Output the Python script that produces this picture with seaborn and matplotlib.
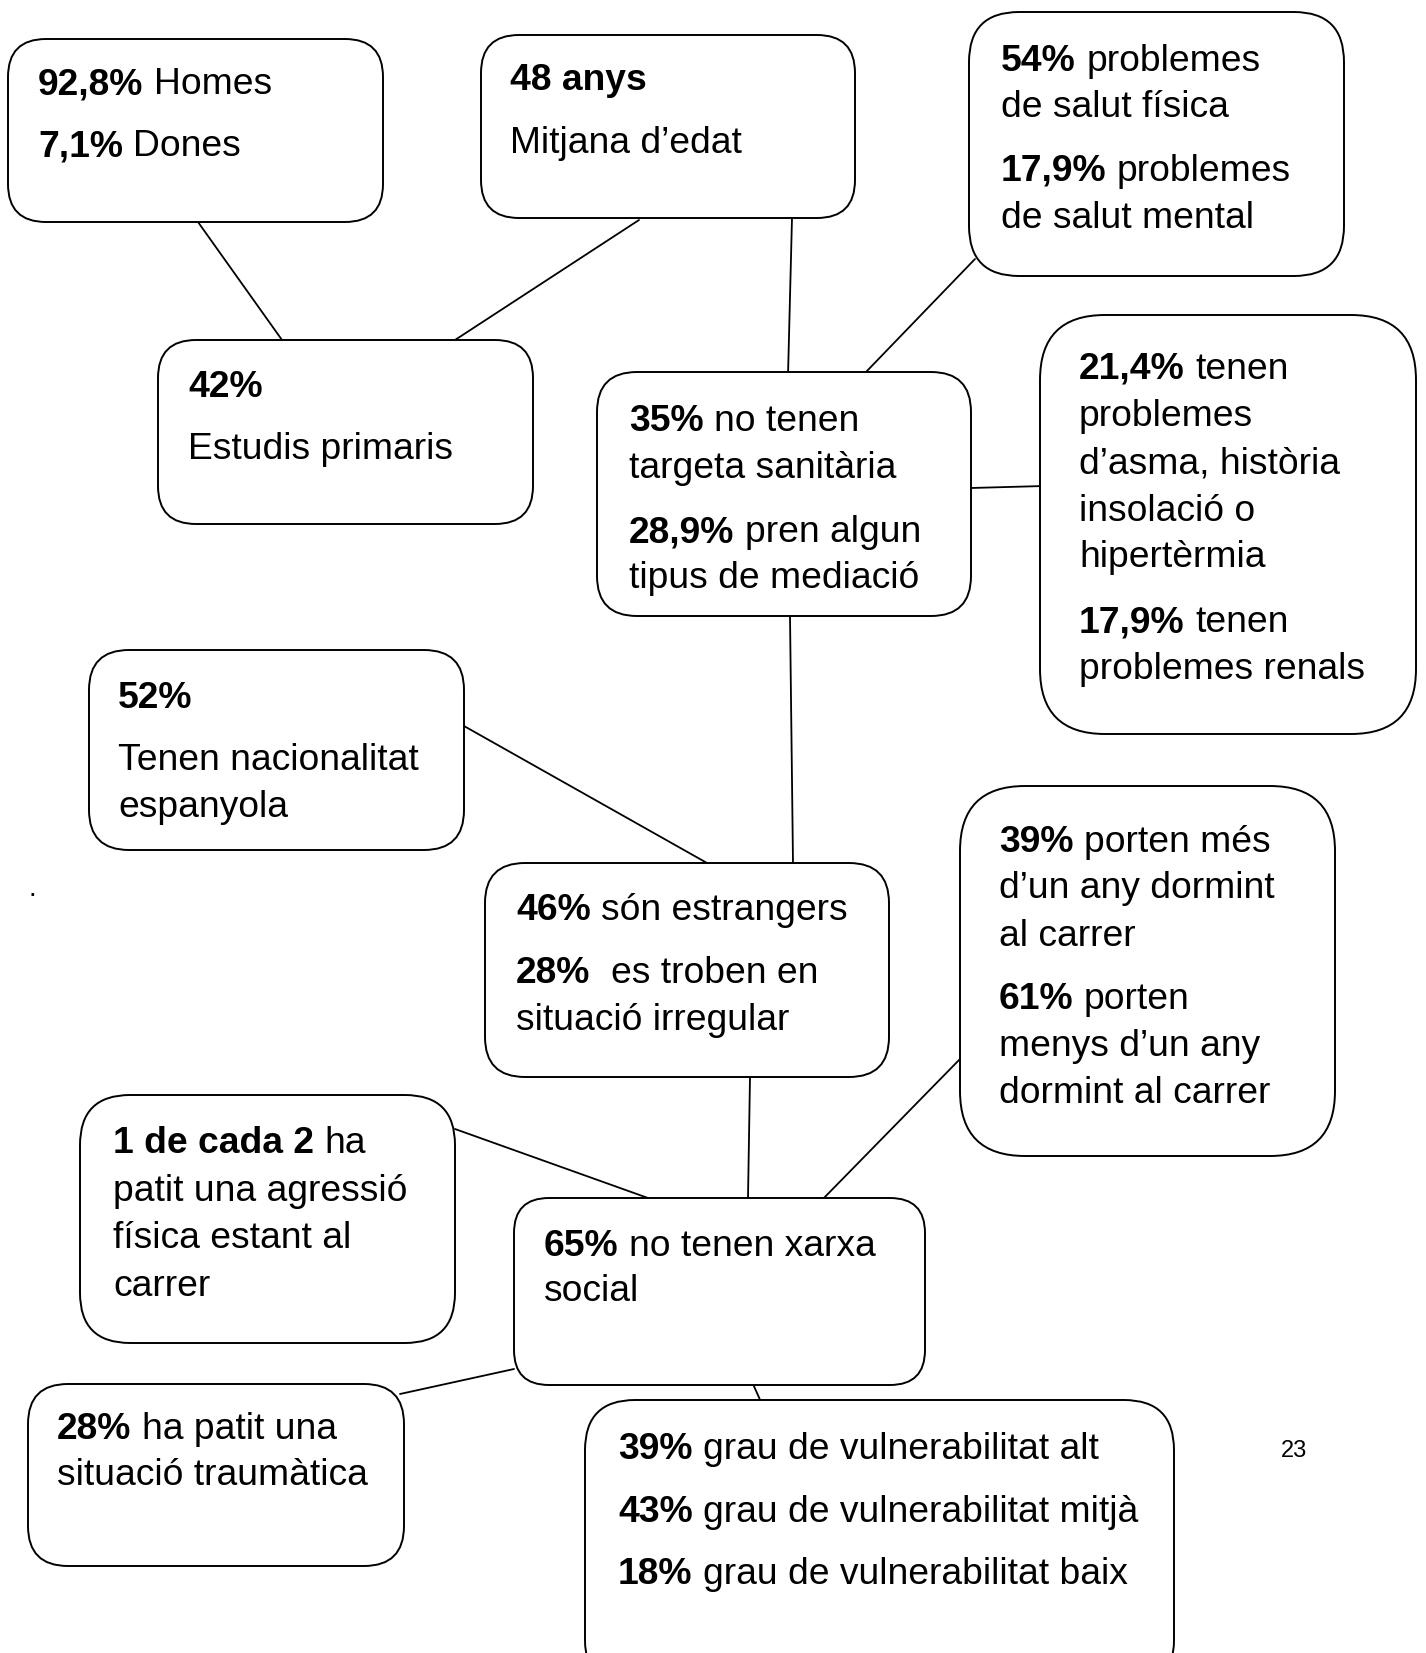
import numpy as np
import pandas as pd
import seaborn as sns
import matplotlib.pyplot as plt
from matplotlib.patches import FancyBboxPatch

### Perfil de les persones que dormen al carrer - esquema de caixes

sns.set_theme(style="white")
plt.rcParams['font.family'] = ['Liberation Sans', 'DejaVu Sans']
plt.rcParams['text.color'] = 'black'

# text of each box: one entry per line, (bold part, regular part)
homes_dones = [("92,8%", "Homes"), ("7,1%", "Dones")]
edat = [("48 anys", ""), ("", "Mitjana d\u2019edat")]
salut = [("54%", "problemes"), ("", "de salut física"),
         ("17,9%", "problemes"), ("", "de salut mental")]
estudis = [("42%", ""), ("", "Estudis primaris")]
targeta = [("35%", "no tenen"), ("", "targeta sanitària"),
           ("28,9%", "pren algun"), ("", "tipus de mediació")]
asma = [("21,4%", "tenen"), ("", "problemes"), ("", "d\u2019asma, història"),
        ("", "insolació o"), ("", "hipertèrmia"),
        ("17,9%", "tenen"), ("", "problemes renals")]
nacionalitat = [("52%", ""), ("", "Tenen nacionalitat"), ("", "espanyola")]
estrangers = [("46%", "són estrangers"), ("28%", " es troben en"),
              ("", "situació irregular")]
carrer = [("39%", "porten més"), ("", "d\u2019un any dormint"), ("", "al carrer"),
          ("61%", "porten"), ("", "menys d\u2019un any"), ("", "dormint al carrer")]
agressio = [("1 de cada 2", "ha"), ("", "patit una agressió"),
            ("", "física estant al"), ("", "carrer")]
xarxa = [("65%", "no tenen xarxa"), ("", "social")]
trauma = [("28%", "ha patit una"), ("", "situació traumàtica")]
vulnerabilitat = [("39%", "grau de vulnerabilitat alt"),
                  ("43%", "grau de vulnerabilitat mitjà"),
                  ("18%", "grau de vulnerabilitat baix")]

texts = [homes_dones, edat, salut, estudis, targeta, asma, nacionalitat,
         estrangers, carrer, agressio, xarxa, trauma, vulnerabilitat]

# layout (pixels): box x0, y0, x1, y1, corner radius, text x, line centres
boxes = [
    (8, 39, 383, 222, 38, 38, [81, 143]),
    (481, 35, 855, 218, 38, 510, [77, 140]),
    (969, 12, 1344, 276, 50, 1001, [58, 104, 168, 215]),
    (158, 340, 533, 524, 38, 188, [384, 446]),
    (597, 372, 971, 616, 40, 629, [418, 465, 529, 575]),
    (1040, 315, 1416, 734, 65, 1079, [366, 413, 461, 508, 554, 619, 666]),
    (89, 650, 464, 850, 40, 118, [695, 757, 804]),
    (485, 863, 889, 1077, 40, 516, [907, 970, 1017]),
    (960, 786, 1335, 1156, 65, 999, [839, 885, 933, 996, 1043, 1090]),
    (80, 1095, 455, 1343, 50, 113, [1140, 1188, 1235, 1283]),
    (514, 1198, 925, 1385, 35, 544, [1243, 1288]),
    (28, 1384, 404, 1566, 40, 57, [1426, 1472]),
    (585, 1400, 1174, 1690, 50, 618, [1446, 1509, 1571]),
]

# connectors between boxes
links = [
    ((198, 222), (282, 340)),
    ((639, 220), (455, 340)),
    ((792, 218), (788, 376)),
    ((975, 259), (866, 372)),
    ((971, 488), (1044, 486)),
    ((790, 616), (793, 863)),
    ((464, 726), (707, 863)),
    ((750, 1077), (748, 1198)),
    ((960, 1059), (820, 1202)),
    ((455, 1129), (648, 1198)),
    ((514, 1369), (400, 1394)),
    ((753, 1384), (761, 1402)),
]

W, H = 1426, 1653
fig = plt.figure(figsize=(W / 100, H / 100), dpi=100)
ax = fig.add_axes([0, 0, 1, 1])
ax.set_xlim(0, W)
ax.set_ylim(H, 0)
ax.axis('off')

for (p, q) in links:
    sns.lineplot(x=[p[0], q[0]], y=[p[1], q[1]], ax=ax, color='black',
                 lw=1.3, sort=False, estimator=None, legend=False)

fs = 26.8
renderer = fig.canvas.get_renderer()
space = 10.4

for (x0, y0, x1, y1, r, tx, ys), lines in zip(boxes, texts):
    ax.add_patch(FancyBboxPatch((x0, y0), x1 - x0, y1 - y0,
                                boxstyle=f"round,pad=0,rounding_size={r}",
                                fc='white', ec='black', lw=1.4, zorder=3))
    for y, (b, t) in zip(ys, lines):
        x = tx
        yb = y + 13
        if b:
            bt = ax.text(x, yb, b, fontsize=fs, fontweight='bold', color='black',
                         va='baseline', ha='left', zorder=4)
            x += bt.get_window_extent(renderer).width + space
        if t:
            extra = space if t.startswith(' ') else 0
            ax.text(x + extra, yb, t.strip(), fontsize=fs, va='baseline',
                    ha='left', color='black', zorder=4)

ax.text(1294, 1451, "23", fontsize=17, ha='center', va='center', color='black')
ax.text(32, 889, ".", fontsize=20, ha='center', va='center', color='black')

fig.savefig('out.png', dpi=100)
